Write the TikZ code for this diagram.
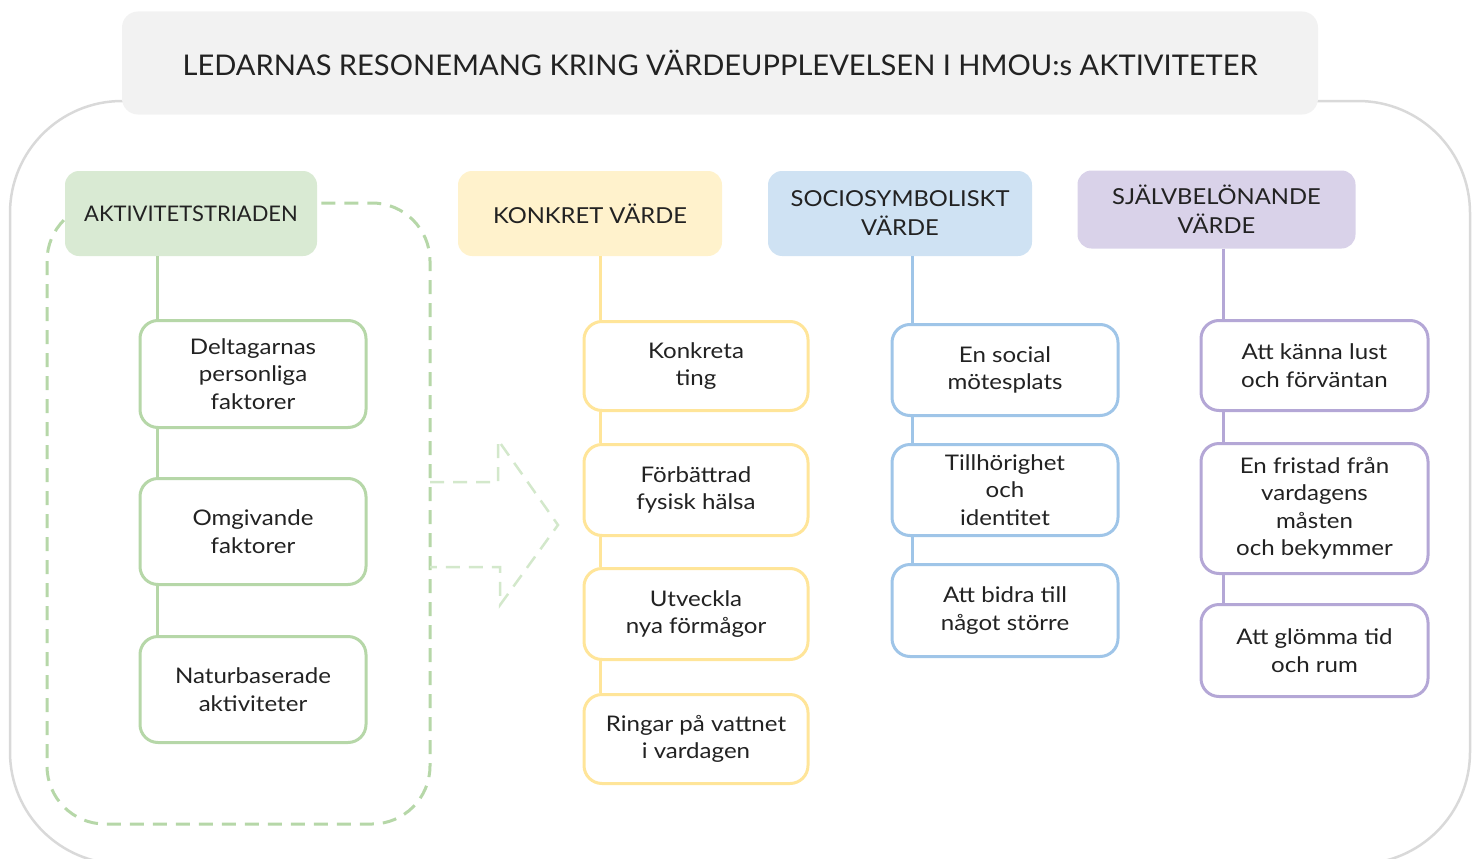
\documentclass[tikz,border=0pt]{standalone}
\usepackage{fontspec}
\setmainfont{Lato}
\newfontfamily\bodyfnt[FakeStretch=1.12]{Lato}
\newfontfamily\hdrfnt[FakeStretch=1.08]{Lato}
\newfontfamily\titlefnt[FakeStretch=1.02]{Lato}
\usetikzlibrary{calc}
\definecolor{txt}{HTML}{222222}
\definecolor{frame}{HTML}{D9D9D9}
\definecolor{titlefill}{HTML}{F2F2F2}
\definecolor{gfill}{HTML}{D9EAD3}
\definecolor{gline}{HTML}{B6D7A8}
\definecolor{garrow}{HTML}{D3E8CB}
\definecolor{yfill}{HTML}{FFF2CC}
\definecolor{yline}{HTML}{FFE599}
\definecolor{bfill}{HTML}{CFE2F3}
\definecolor{bline}{HTML}{9FC5E8}
\definecolor{pfill}{HTML}{D9D2E9}
\definecolor{pline}{HTML}{B4A7D6}
\begin{document}
\begin{tikzpicture}[x=1pt,y=-1pt,
  hdrbox/.style={rounded corners=14pt, align=center, inner sep=0pt, text=txt,
    font=\hdrfnt\fontsize{22}{29}\selectfont},
  itembox/.style={draw, line width=3pt, fill=white, rounded corners=18pt, align=center,
    inner sep=0pt, text=txt, font=\bodyfnt\fontsize{21.5}{27.5}\selectfont},
  conn/.style={line width=3pt},
]
\useasboundingbox (0,0) rectangle (1480,859);
\clip (0,0) rectangle (1480,859);

% outer frame
\draw[frame, line width=2.5pt, rounded corners=112pt] (10,101) rectangle (1470,864);

% title
\node[fill=titlefill, rounded corners=16pt, minimum width=1196pt, minimum height=103pt,
  text=txt, font=\titlefnt\fontsize{28.5}{34}\selectfont, inner sep=0pt] (title) at (720,63)
  {LEDARNAS RESONEMANG KRING VÄRDEUPPLEVELSEN I HMOU:s AKTIVITETER};

% dashed group
\draw[gline, line width=3pt, dash pattern=on 14pt off 9pt, rounded corners=58pt]
  (47,203) rectangle (430,824);

% dashed arrow
\draw[garrow, line width=2.5pt, dash pattern=on 14pt off 9pt]
  (430,482) -- (498,482) -- (498,440) -- (558,525) -- (500,605) -- (500,567) -- (430,567);

% headers
\node[hdrbox, fill=gfill, minimum width=252pt, minimum height=85pt,
  font=\titlefnt\fontsize{21.5}{29}\selectfont] (gh) at (191,213.5) {AKTIVITETSTRIADEN};
\node[hdrbox, fill=yfill, minimum width=264pt, minimum height=85pt] (yh) at (590,213.5) {KONKRET VÄRDE};
\node[hdrbox, fill=bfill, minimum width=264pt, minimum height=85pt] (bh) at (900,213.5) {SOCIOSYMBOLISKT\\VÄRDE};
\node[hdrbox, fill=pfill, minimum width=278pt, minimum height=78pt] (ph) at (1216.5,209.5) {SJÄLVBELÖNANDE\\VÄRDE};

% column x positions
\coordinate (gx) at (157,0);
\coordinate (yx) at (600,0);
\coordinate (bx) at (912,0);
\coordinate (px) at (1223,0);

% green column
\node[itembox, draw=gline, minimum width=226pt, minimum height=107pt] (g1) at (253,374) {Deltagarnas\\personliga\\faktorer};
\node[itembox, draw=gline, minimum width=226pt, minimum height=106pt] (g2) at (253,531.5) {Omgivande\\faktorer};
\node[itembox, draw=gline, minimum width=226pt, minimum height=106pt] (g3) at (253,689.5) {Naturbaserade\\aktiviteter};

% yellow column
\node[itembox, draw=yline, minimum width=224pt, minimum height=89pt] (y1) at (696,366) {Konkreta\\ting};
\node[itembox, draw=yline, minimum width=224pt, minimum height=91pt] (y2) at (696,490) {Förbättrad\\fysisk hälsa};
\node[itembox, draw=yline, minimum width=224pt, minimum height=91pt] (y3) at (696,614) {Utveckla\\nya förmågor};
\node[itembox, draw=yline, minimum width=224pt, minimum height=89pt] (y4) at (696,739) {Ringar på vattnet\\i vardagen};

% blue column
\node[itembox, draw=bline, minimum width=226pt, minimum height=91pt] (b1) at (1005,370) {En social\\mötesplats};
\node[itembox, draw=bline, minimum width=226pt, minimum height=91pt] (b2) at (1005,490) {Tillhörighet\\och\\identitet};
\node[itembox, draw=bline, minimum width=226pt, minimum height=92pt] (b3) at (1005,610.5) {Att bidra till\\något större};

% purple column
\node[itembox, draw=pline, minimum width=227pt, minimum height=90pt] (p1) at (1314.5,365.5) {Att känna lust\\och förväntan};
\node[itembox, draw=pline, minimum width=227pt, minimum height=130pt] (p2) at (1314.5,508.5) {En fristad från\\vardagens\\måsten\\och bekymmer};
\node[itembox, draw=pline, minimum width=227pt, minimum height=92pt] (p3) at (1314.5,650.5) {Att glömma tid\\och rum};

% connectors
\draw[conn, gline] (gh.south -| gx) -- (g1.north -| gx);
\draw[conn, gline] (g1.south -| gx) -- (g2.north -| gx);
\draw[conn, gline] (g2.south -| gx) -- (g3.north -| gx);
\draw[conn, yline] (yh.south -| yx) -- (y1.north -| yx);
\draw[conn, yline] (y1.south -| yx) -- (y2.north -| yx);
\draw[conn, yline] (y2.south -| yx) -- (y3.north -| yx);
\draw[conn, yline] (y3.south -| yx) -- (y4.north -| yx);
\draw[conn, bline] (bh.south -| bx) -- (b1.north -| bx);
\draw[conn, bline] (b1.south -| bx) -- (b2.north -| bx);
\draw[conn, bline] (b2.south -| bx) -- (b3.north -| bx);
\draw[conn, pline] (ph.south -| px) -- (p1.north -| px);
\draw[conn, pline] (p1.south -| px) -- (p2.north -| px);
\draw[conn, pline] (p2.south -| px) -- (p3.north -| px);
\end{tikzpicture}
\end{document}
